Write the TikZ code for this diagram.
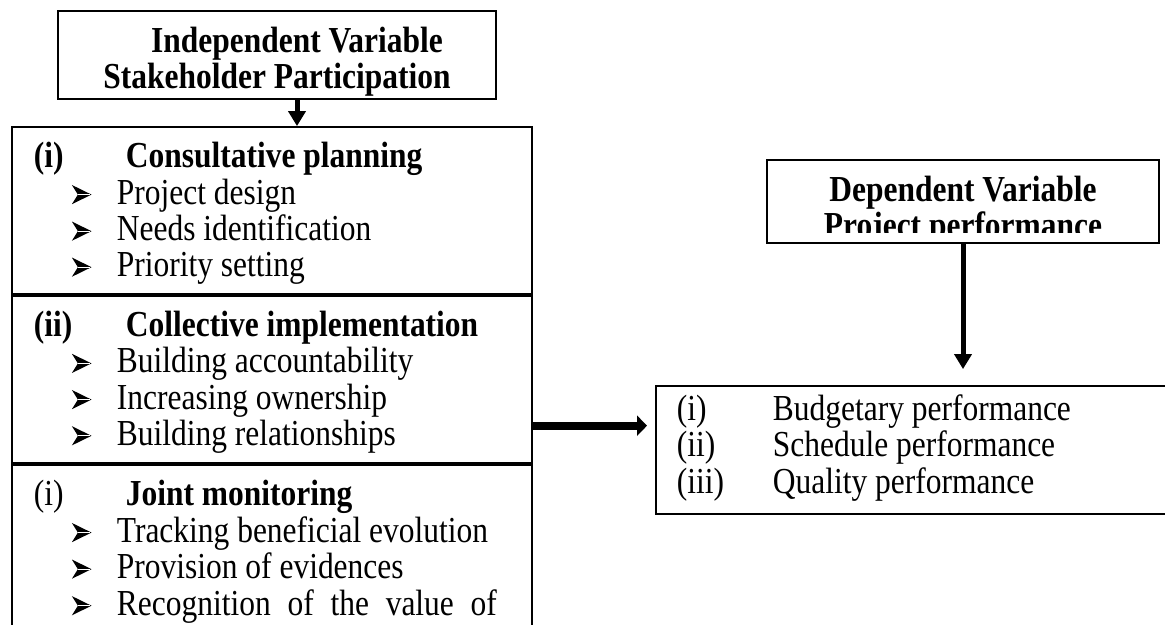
\documentclass[tikz,border=0pt]{standalone}
\usepackage{fontspec}
\setmainfont{Liberation Serif}[FakeStretch=0.86]
\usepackage{tikz}
\usetikzlibrary{arrows.meta,positioning}

\newcommand{\arrowbul}{\makebox[22.5pt][l]{\tikz[baseline=0pt]{\fill (0,0) -- (3pt,4.8pt) -- (0,9.6pt) -- (9.8pt,4.8pt) -- cycle;
  \draw[white, line width=0.35pt] (3pt,4.8pt) -- (9.2pt,4.8pt);}}}

\tikzset{
  box/.style={draw, line width=0.9pt, inner ysep=0pt},
  body/.style={font=\fontsize{18.3}{18}\selectfont},
  head/.style={font=\fontsize{18.3}{17}\selectfont\bfseries},
  sect/.style={box, body, inner xsep=11pt, text height=20.5pt, text depth=63pt},
  arr/.style={line width=2.5pt, -{Triangle[width=8.5pt,length=7.5pt]}},
  wide/.style={line width=4pt, -{Triangle[width=10pt,length=5pt]}}
}

\begin{document}
\begin{tikzpicture}[x=0.5pt,y=-0.5pt]
\useasboundingbox (0,0) rectangle (1165,625);

\node[box, head, anchor=base, inner xsep=0pt, minimum width=219pt, text height=21pt, text depth=23pt] (indep) at (277,53)
  {\begin{tabular}[t]{@{}c@{}}\hspace*{20pt}Independent Variable\\ Stakeholder Participation\end{tabular}};

\node[sect, anchor=base west] (plan) at (11,168)
  {\begin{tabular}[t]{@{}p{46pt}@{}p{192pt}@{}}
    \textbf{(i)} & \textbf{Consultative planning}\\
    \multicolumn{2}{@{}l@{}}{\hspace*{19pt}\arrowbul Project design}\\
    \multicolumn{2}{@{}l@{}}{\hspace*{19pt}\arrowbul Needs identification}\\
    \multicolumn{2}{@{}l@{}}{\hspace*{19pt}\arrowbul Priority setting}
  \end{tabular}};
\node[sect, below=0pt of plan] (impl)
  {\begin{tabular}[t]{@{}p{46pt}@{}p{192pt}@{}}
    \textbf{(ii)} & \textbf{Collective implementation}\\
    \multicolumn{2}{@{}l@{}}{\hspace*{19pt}\arrowbul Building accountability}\\
    \multicolumn{2}{@{}l@{}}{\hspace*{19pt}\arrowbul Increasing ownership}\\
    \multicolumn{2}{@{}l@{}}{\hspace*{19pt}\arrowbul Building relationships}
  \end{tabular}};
\node[sect, below=0pt of impl] (monit)
  {\begin{tabular}[t]{@{}p{46pt}@{}p{192pt}@{}}
    (i) & \textbf{Joint monitoring}\\
    \multicolumn{2}{@{}l@{}}{\hspace*{19pt}\arrowbul Tracking beneficial evolution}\\
    \multicolumn{2}{@{}l@{}}{\hspace*{19pt}\arrowbul Provision of evidences}\\
    \multicolumn{2}{@{}l@{}}{\hspace*{19pt}\arrowbul \makebox[190pt][s]{Recognition of the value of}}
  \end{tabular}};

\node[box, body, anchor=base west, inner xsep=10.5pt, text height=17pt, text depth=47pt] (outc) at (655,420)
  {\begin{tabular}[t]{@{}p{48pt}@{}p{220pt}@{}}
    (i) & Budgetary performance\\
    (ii) & Schedule performance\\
    (iii) & Quality performance
  \end{tabular}};

\node[box, minimum width=196pt, minimum height=41.5pt, inner sep=0pt] (dep) at (963,201.5) {};
\begin{scope}
  \clip (767,150) rectangle (1159,233);
  \node[head, anchor=base, inner sep=0pt] (deptxt) at (963,202)
    {\begin{tabular}[t]{@{}c@{}}Dependent Variable\\ Project performance\end{tabular}};
\end{scope}

\coordinate (t1) at ([xshift=10pt]indep.south);
\draw[arr] (t1) -- (t1 |- plan.north);
\coordinate (t2) at ([yshift=19pt]impl.south east);
\draw[wide, shorten >=4pt] (t2) -- (t2 -| outc.west);
\draw[arr, shorten >=8pt] (dep.south) -- (dep.south |- outc.north);
\end{tikzpicture}
\end{document}
